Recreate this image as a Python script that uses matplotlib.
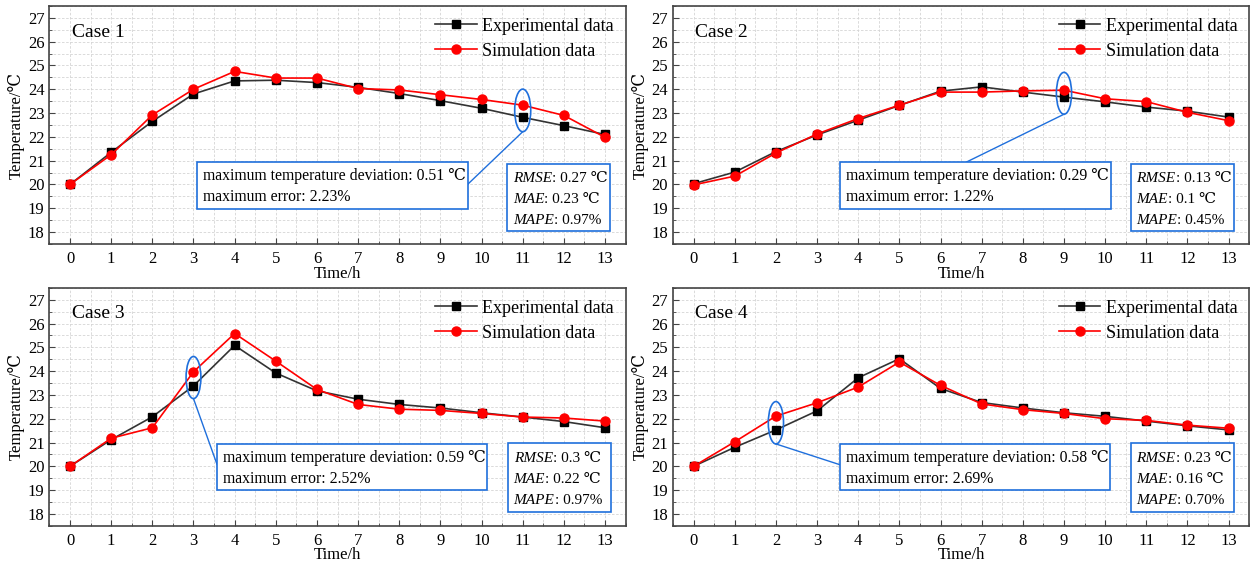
import matplotlib
matplotlib.use("Agg")
import matplotlib.pyplot as plt
from matplotlib.patches import Ellipse, Rectangle
from matplotlib.ticker import MultipleLocator

plt.rcParams['font.family'] = ['Liberation Serif', 'DejaVu Serif']

#data
hours = list(range(14))

exp_case1 = [20.0, 21.35, 22.65, 23.8, 24.35, 24.38, 24.28, 24.08, 23.82, 23.52, 23.2, 22.82, 22.47, 22.1]
sim_case1 = [20.0, 21.25, 22.92, 24.0, 24.75, 24.47, 24.47, 24.03, 23.97, 23.77, 23.57, 23.33, 22.9, 21.98]

exp_case2 = [20.03, 20.52, 21.38, 22.08, 22.7, 23.32, 23.92, 24.1, 23.88, 23.67, 23.47, 23.25, 23.08, 22.83]
sim_case2 = [19.98, 20.35, 21.32, 22.12, 22.77, 23.33, 23.88, 23.88, 23.93, 23.96, 23.6, 23.48, 23.03, 22.68]

exp_case3 = [20.0, 21.12, 22.08, 23.38, 25.08, 23.92, 23.17, 22.82, 22.6, 22.45, 22.25, 22.07, 21.88, 21.62]
sim_case3 = [20.0, 21.18, 21.62, 23.97, 25.58, 24.42, 23.23, 22.6, 22.4, 22.35, 22.22, 22.07, 22.03, 21.9]

exp_case4 = [20.0, 20.8, 21.53, 22.33, 23.72, 24.52, 23.27, 22.68, 22.45, 22.25, 22.1, 21.9, 21.7, 21.53]
sim_case4 = [20.0, 21.03, 22.11, 22.67, 23.33, 24.38, 23.4, 22.62, 22.38, 22.22, 22.0, 21.93, 21.73, 21.6]

case_names = ["Case 1", "Case 2", "Case 3", "Case 4"]
exp_data = [exp_case1, exp_case2, exp_case3, exp_case4]
sim_data = [sim_case1, sim_case2, sim_case3, sim_case4]

max_dev = ["0.51", "0.29", "0.59", "0.58"]
max_err = ["2.23%", "1.22%", "2.52%", "2.69%"]
rmse = ["0.27 ℃", "0.13 ℃", "0.3 ℃", "0.23 ℃"]
mae = ["0.23 ℃", "0.1 ℃", "0.22 ℃", "0.16 ℃"]
mape = ["0.97%", "0.45%", "0.97%", "0.70%"]
dev_hour = [11, 9, 3, 2]

#annotation layout (data units)
dev_box = [(3.08, 18.98, 9.66, 20.95), (3.55, 18.98, 10.13, 20.95),
           (3.57, 19.01, 10.13, 20.95), (3.55, 19.01, 10.11, 20.95)]
stat_box = [(10.62, 18.03, 13.13, 20.88), (10.62, 18.03, 13.14, 20.88),
            (10.64, 18.1, 13.14, 20.96), (10.62, 18.1, 13.14, 20.96)]
ell_shape = [(23.11, 0.39, 1.79), (23.83, 0.37, 1.76), (23.73, 0.36, 1.77), (21.83, 0.37, 1.78)]
link_end = [(9.66, 20.0), (6.64, 20.95), (3.57, 20.09), (3.55, 20.07)]

blue = "#1f6fdc"
fs_box = 11.3
fs_stat = 11

fig = plt.figure(figsize=(12.58, 5.66), dpi=100)
ax_pos = [[0.0393, 0.569, 0.458, 0.4205], [0.535, 0.569, 0.458, 0.4205],
          [0.0393, 0.071, 0.458, 0.4205], [0.535, 0.071, 0.458, 0.4205]]


def stat_line(ax, x, y, name, value):
    t = ax.text(x, y, name, fontsize=fs_stat, style="italic", va="center",
                ha="left", zorder=6)
    ax.annotate(": " + value, xy=(1, 0), xycoords=t, va="bottom", ha="left",
                fontsize=fs_stat, zorder=6)


for i in range(4):
    ax = fig.add_axes(ax_pos[i])
    ax.plot(hours, exp_data[i], color="#333333", lw=1.2, marker="s", ms=5.5,
            mfc="black", mec="black", label="Experimental data", zorder=3)
    ax.plot(hours, sim_data[i], color="red", lw=1.2, marker="o", ms=6.5,
            mfc="red", mec="red", label="Simulation data", zorder=4)

    ax.set_xlim(-0.5, 13.5)
    ax.set_ylim(17.5, 27.5)
    ax.set_xticks(hours)
    ax.set_yticks(range(18, 28))
    ax.xaxis.set_minor_locator(MultipleLocator(0.5))
    ax.yaxis.set_minor_locator(MultipleLocator(0.5))
    ax.tick_params(which="both", direction="in", labelsize=12, color="#444444")
    ax.tick_params(axis="x", which="both", pad=5)
    ax.tick_params(which="major", length=4)
    ax.tick_params(which="minor", length=2.5)
    ax.grid(which="both", color="#d4d4d4", ls=(0, (3, 2)), lw=0.6)
    ax.set_axisbelow(True)
    for s in ax.spines.values():
        s.set_color("#444444")
        s.set_linewidth(1.2)

    ax.set_xlabel("Time/h", fontsize=12, labelpad=-1)
    ax.set_ylabel("Temperature/℃", fontsize=12, labelpad=2)
    ax.text(0.04, 26.4, case_names[i], fontsize=14, va="center", ha="left")
    ax.legend(loc="upper right", frameon=False, fontsize=13, handlelength=2.3,
              handletextpad=0.3, borderaxespad=0.25, labelspacing=0.45)

    # deviation box
    x0, y0, x1, y1 = dev_box[i]
    ax.add_patch(Rectangle((x0, y0), x1 - x0, y1 - y0, fill=True, fc="white",
                           ec=blue, lw=1.2, zorder=5))
    ax.text(x0 + 0.15, y1 - 0.6, "maximum temperature deviation: " + max_dev[i] + " ℃",
            fontsize=fs_box, va="center", ha="left", zorder=6)
    ax.text(x0 + 0.15, y1 - 1.47, "maximum error: " + max_err[i],
            fontsize=fs_box, va="center", ha="left", zorder=6)

    # stats box
    x0, y0, x1, y1 = stat_box[i]
    ax.add_patch(Rectangle((x0, y0), x1 - x0, y1 - y0, fill=True, fc="white",
                           ec=blue, lw=1.2, zorder=5))
    stat_line(ax, x0 + 0.14, y1 - 0.62, "RMSE", rmse[i])
    stat_line(ax, x0 + 0.14, y1 - 1.5, "MAE", mae[i])
    stat_line(ax, x0 + 0.14, y1 - 2.38, "MAPE", mape[i])

    # ellipse and link line
    yc, w, h = ell_shape[i]
    ax.add_patch(Ellipse((dev_hour[i], yc), w, h, fill=False, ec=blue, lw=1.2, zorder=6))
    ax.plot([dev_hour[i], link_end[i][0]], [yc - h / 2, link_end[i][1]],
            color=blue, lw=1.0, zorder=4)

fig.savefig("out.png", dpi=100)
